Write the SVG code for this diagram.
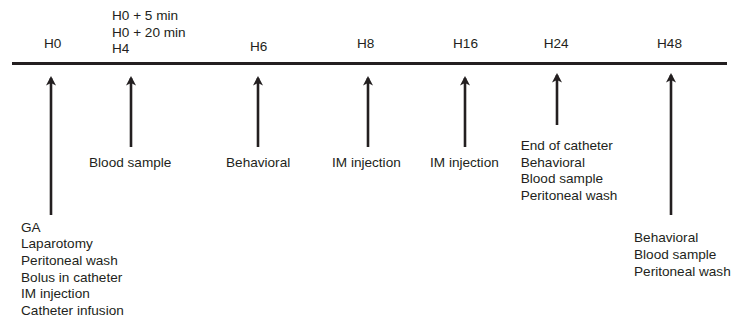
<svg xmlns="http://www.w3.org/2000/svg" width="738" height="320" viewBox="0 0 738 320">
<style>
text{font-family:"Liberation Sans",Arial,sans-serif;font-size:13.6px;fill:#231f20}
.ln{stroke:#231f20;stroke-width:2.6;fill:none}
.tl{stroke:#231f20;stroke-width:3;fill:none}
</style>
<defs>
<marker id="ah" viewBox="0 0 10 10" refX="8" refY="5" markerWidth="10" markerHeight="10" markerUnits="userSpaceOnUse" orient="auto">
<path d="M10,5 L0.5,0 L3,5 L0.5,10 Z" fill="#231f20"/>
</marker>
</defs>
<rect width="738" height="320" fill="#fff"/>
<g id="timeline">
<line class="tl" x1="12" y1="63.5" x2="727" y2="63.5"/>
</g>
<g id="connectors">
<line class="ln" x1="51" y1="215" x2="51" y2="78" marker-end="url(#ah)"/>
<line class="ln" x1="131" y1="147" x2="131" y2="78" marker-end="url(#ah)"/>
<line class="ln" x1="258" y1="147" x2="258" y2="78" marker-end="url(#ah)"/>
<line class="ln" x1="368" y1="147" x2="368" y2="78" marker-end="url(#ah)"/>
<line class="ln" x1="465" y1="147" x2="465" y2="78" marker-end="url(#ah)"/>
<line class="ln" x1="557" y1="125" x2="557" y2="75" marker-end="url(#ah)"/>
<line class="ln" x1="671" y1="215" x2="671" y2="75" marker-end="url(#ah)"/>
</g>
<g id="h0">
<text x="44" y="48">H0</text>
<text x="21" y="231.7">GA</text>
<text x="21" y="248.3">Laparotomy</text>
<text x="21" y="265">Peritoneal wash</text>
<text x="21" y="281.7">Bolus in catheter</text>
<text x="21" y="298.3">IM injection</text>
<text x="21" y="315">Catheter infusion</text>
</g>
<g id="h4">
<text x="112" y="20">H0 + 5 min</text>
<text x="112" y="36.7">H0 + 20 min</text>
<text x="112" y="53.4">H4</text>
<text x="89" y="166.7">Blood sample</text>
</g>
<g id="h6">
<text x="250" y="51">H6</text>
<text x="226" y="166.7">Behavioral</text>
</g>
<g id="h8">
<text x="357" y="48">H8</text>
<text x="332" y="166.7">IM injection</text>
</g>
<g id="h16">
<text x="453" y="48">H16</text>
<text x="430" y="166.7">IM injection</text>
</g>
<g id="h24">
<text x="543.7" y="48">H24</text>
<text x="520.7" y="150">End of catheter</text>
<text x="520.7" y="166.7">Behavioral</text>
<text x="520.7" y="183.3">Blood sample</text>
<text x="520.7" y="200">Peritoneal wash</text>
</g>
<g id="h48">
<text x="657" y="48">H48</text>
<text x="634" y="242.3">Behavioral</text>
<text x="634" y="259">Blood sample</text>
<text x="634" y="275.7">Peritoneal wash</text>
</g>
</svg>
